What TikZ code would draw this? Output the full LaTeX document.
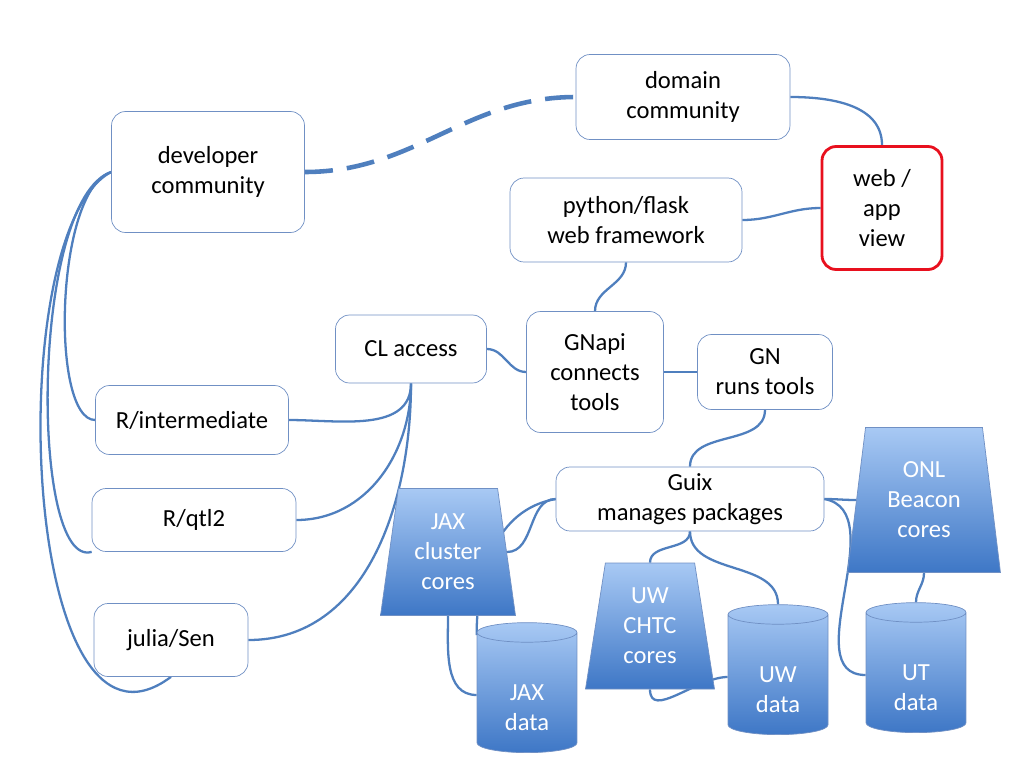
\documentclass[tikz,border=0pt]{standalone}
\usepackage{fontspec}
\setmainfont{Carlito}
\usetikzlibrary{shapes.geometric,backgrounds}
\definecolor{linkblue}{HTML}{4F7FBE}
\definecolor{boxline}{HTML}{7090C4}
\definecolor{shadetop}{HTML}{A8C9F4}
\definecolor{shadebot}{HTML}{3E77C6}
\definecolor{alertred}{HTML}{E8101E}
\tikzset{
  box/.style={draw=boxline, rounded corners=8pt, fill=white, align=center, font=\fontsize{14}{17}\selectfont},
  store/.style={cylinder, shape border rotate=90, aspect=0.35, draw=boxline, top color=shadetop, bottom color=shadebot, text=white, align=center, font=\fontsize{14}{17}\selectfont},
  cores/.style={trapezium, trapezium stretches body, draw=boxline, top color=shadetop, bottom color=shadebot, text=white, align=center, inner sep=0pt, font=\fontsize{14}{17}\selectfont},
  link/.style={draw=linkblue, line width=1.3pt}
}
\begin{document}
\begin{tikzpicture}[x=0.02cm, y=-0.02cm]
        \useasboundingbox (0,0) rectangle (1024,768);

        \node[box, minimum width=4.28cm, minimum height=1.70cm] (domain) at (683,97) {domain\\community};
        \node[box, minimum width=3.86cm, minimum height=2.42cm] (dev) at (208,172) {developer\\community};
        \node[box, draw=alertred, line width=1.6pt, minimum width=2.40cm, minimum height=2.46cm] (web) at (882,208) {web /\\app\\view};
        \node[box, minimum width=4.64cm, minimum height=1.68cm] (flask) at (626,220) {python/flask\\web framework};
        \node[box, minimum width=3.02cm, minimum height=1.36cm] (cl) at (411,349) {CL access};
        \node[box, minimum width=2.74cm, minimum height=2.42cm] (gnapi) at (595,372) {GNapi\\connects\\tools};
        \node[box, minimum width=2.70cm, minimum height=1.50cm] (gn) at (765,372) {GN\\runs tools};
        \node[box, minimum width=3.86cm, minimum height=1.38cm] (rint) at (192,420) {R/intermediate};
        \node[box, minimum width=4.08cm, minimum height=1.26cm] (rqtl) at (194,520) {R/qtl2};
        \node[box, minimum width=3.08cm, minimum height=1.46cm] (julia) at (171,640) {julia/Sen};
        \node[box, minimum width=5.36cm, minimum height=1.28cm] (guix) at (690,499) {Guix\\manages packages};

        \node[cores, trapezium angle=76.7, minimum width=2.70cm, minimum height=2.54cm] (jaxc) at (448,552) {\\[-8pt]JAX\\cluster\\cores};
        \node[cores, trapezium angle=76.6, minimum width=3.06cm, minimum height=2.90cm] (onl) at (924,500) {\\[-8pt]ONL\\Beacon\\cores};
        \node[cores, trapezium angle=75.3, minimum width=2.58cm, minimum height=2.52cm] (uwc) at (650,626) {\\[-8pt]UW\\CHTC\\cores};

        \node[store, minimum width=2.00cm, minimum height=2.60cm] (jaxd) at (527,695) {\\[6pt]JAX\\data};
        \node[store, minimum width=2.00cm, minimum height=2.60cm] (uwd) at (778,677) {\\[6pt]UW\\data};
        \node[store, minimum width=2.00cm, minimum height=2.60cm] (utd) at (916,675) {\\[6pt]UT\\data};

        \begin{scope}[on background layer]
        \draw[link, line width=2.6pt, dash pattern=on 16pt off 8pt] (dev.east) to[out=0,in=180] (domain.west);
        \draw[link] (domain.east) to[out=0,in=90] (web.north);
        \draw[link] (flask.east) to[out=0,in=180] (web.west);
        \draw[link] (flask.south) to[out=-90,in=90] (gnapi.north);
        \draw[link] (cl.east) to[out=0,in=180] (gnapi.west);
        \draw[link] (gnapi.east) to[out=0,in=180] (gn.west);
        \draw[link] (gn.south) to[out=-90,in=90] (guix.north);

        \draw[link] (dev.west) .. controls (55,190) and (50,420) .. (rint.west);
        \draw[link] (dev.west) .. controls (30,200) and (30,570) .. (rqtl.south west);
        \draw[link] (dev.west) .. controls (0,230) and (20,790) .. (julia.south);
        \draw[link] (cl.south) to[out=-90,in=0] (rint.east);
        \draw[link] (cl.south) to[out=-90,in=0] (rqtl.east);
        \draw[link] (cl.south) to[out=-90,in=0] (julia.east);

        \draw[link] (guix.west) to[out=180,in=0] (jaxc.east);
        \draw[link] (guix.west) to[out=190,in=90] (jaxd.130);
        \draw[link] (jaxc.south) to[out=-90,in=180] (jaxd.west);
        \draw[link] (guix.south) to[out=-90,in=90] (uwc.north);
        \draw[link] (guix.south) to[out=-90,in=90] (uwd.north);
        \draw[link] (uwc.south) to[out=-90,in=180] (uwd.west);
        \draw[link] (guix.east) to[out=0,in=180] (onl.west);
        \draw[link] (guix.east) to[out=-10,in=180] (utd.west);
        \draw[link] (onl.south) to[out=-90,in=90] (utd.north);
        \end{scope}
\end{tikzpicture}
\end{document}
